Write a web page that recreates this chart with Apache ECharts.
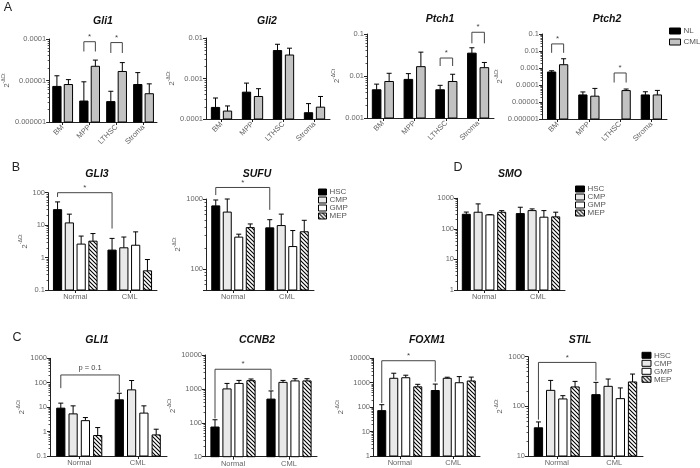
<!DOCTYPE html>
<html><head><meta charset="utf-8">
<script src="https://cdn.jsdelivr.net/npm/echarts@6/dist/echarts.min.js"></script>
<style>html,body{margin:0;padding:0;background:#fff}#c{width:700px;height:468px}</style>
</head><body><div id="c"></div>
<script>
// ---------- DATA ----------
// Panel A (mouse): categories and values (bar height, upper end of error bar)
const catsA = ['BM', 'MPP', 'LTHSC', 'Stroma'];
const aGli1NL = [7.2e-6, 3.2e-6, 3.1e-6, 8.0e-6];
const aGli1NLErr = [1.3e-5, 9.3e-6, 5.5e-6, 1.55e-5];
const aGli1CML = [8.0e-6, 2.2e-5, 1.65e-5, 4.8e-6];
const aGli1CMLErr = [1.05e-5, 3.1e-5, 2.7e-5, 8.3e-6];
const aGli2NL = [1.93e-4, 4.6e-4, 4.9e-3, 1.43e-4];
const aGli2NLErr = [3.3e-4, 7.7e-4, 7.0e-3, 2.4e-4];
const aGli2CML = [1.57e-4, 3.6e-4, 3.8e-3, 1.96e-4];
const aGli2CMLErr = [2.1e-4, 5.6e-4, 5.6e-3, 3.6e-4];
const aPtch1NL = [4.7e-3, 8.3e-3, 4.7e-3, 3.5e-2];
const aPtch1NLErr = [6.4e-3, 1.14e-2, 6.0e-3, 4.7e-2];
const aPtch1CML = [7.4e-3, 1.67e-2, 7.4e-3, 1.58e-2];
const aPtch1CMLErr = [1.16e-2, 3.7e-2, 1.1e-2, 2.1e-2];
const aPtch2NL = [5.8e-4, 2.6e-5, null, 2.6e-5];
const aPtch2NLErr = [6.9e-4, 3.9e-5, null, 4.0e-5];
const aPtch2CML = [1.56e-3, 2.2e-5, 4.7e-5, 2.6e-5];
const aPtch2CMLErr = [3.5e-3, 6.3e-5, 5.8e-5, 4.8e-5];
const legendA = ['NL', 'CML'];
const ticksGli1 = ['0.000001', '0.00001', '0.0001'];
const ticksGli2 = ['0.0001', '0.001', '0.01'];
const ticksPtch1 = ['0.001', '0.01', '0.1'];
const ticksPtch2 = ['0.000001', '0.00001', '0.0001', '0.001', '0.01', '0.1'];

// Panels B, C, D (human)
const catsBC = ['Normal', 'CML'];
const legendBC = ['HSC', 'CMP', 'GMP', 'MEP'];
const bGli3HSC = [30, 1.7],   bGli3HSCErr = [52, 3.9];
const bGli3CMP = [11.7, 2.0], bGli3CMPErr = [21.8, 4.3];
const bGli3GMP = [2.6, 2.4],  bGli3GMPErr = [4.6, 6.2];
const bGli3MEP = [3.2, 0.39], bGli3MEPErr = [5.5, 0.87];
const bSufuHSC = [797, 387], bSufuHSCErr = [968, 506];
const bSufuCMP = [650, 417], bSufuCMPErr = [1000, 608];
const bSufuGMP = [285, 209], bSufuGMPErr = [314, 354];
const bSufuMEP = [390, 340], bSufuMEPErr = [440, 496];
const dSmoHSC = [300, 316], dSmoHSCErr = [355, 510];
const dSmoCMP = [350, 396], dSmoCMPErr = [656, 450];
const dSmoGMP = [286, 241], dSmoGMPErr = [292, 396];
const dSmoMEP = [350, 247], dSmoMEPErr = [395, 351];
const cGli1HSC = [9.1, 20],   cGli1HSCErr = [14.6, 37];
const cGli1CMP = [5.3, 51],   cGli1CMPErr = [11.3, 123];
const cGli1GMP = [2.8, 5.7],  cGli1GMPErr = [3.75, 11.3];
const cGli1MEP = [0.69, 0.73], cGli1MEPErr = [1.46, 1.25];
const cCcnb2HSC = [75, 500],    cCcnb2HSCErr = [123, 870];
const cCcnb2CMP = [1000, 1560], cCcnb2CMPErr = [1450, 1780];
const cCcnb2GMP = [1450, 1720], cCcnb2GMPErr = [1780, 2000];
const cCcnb2MEP = [1750, 1720], cCcnb2MEPErr = [1960, 2000];
const cFoxm1HSC = [72, 480],    cFoxm1HSCErr = [126, 880];
const cFoxm1CMP = [1520, 1520], cFoxm1CMPErr = [2450, 1680];
const cFoxm1GMP = [1600, 1000], cFoxm1GMPErr = [2030, 1780];
const cFoxm1MEP = [680, 1180],  cFoxm1MEPErr = [860, 1700];
const cStilHSC = [37, 172],  cStilHSCErr = [48.5, 304];
const cStilCMP = [210, 253], cStilCMPErr = [333, 355];
const cStilGMP = [141, 143], cStilGMPErr = [164, 235];
const cStilMEP = [246, 310], cStilMEPErr = [318, 447];
const ticksGli3 = ['0.1', '1', '10', '100'];
const ticksSufu = ['100', '1000'];
const ticksSmo = ['1', '10', '100', '1000'];
const ticksCGli1 = ['0.1', '1', '10', '100', '1000'];
const ticksCcnb2 = ['10', '100', '1000', '10000'];
const ticksFoxm1 = ['1', '10', '100', '1000', '10000'];
const ticksStil = ['10', '100', '1000'];

// ---------- STYLE / LAYOUT ----------
const FONT = "'Liberation Sans', Arial, Helvetica, sans-serif";
function makeHatch() {
  const c = document.createElement('canvas'); c.width = 4; c.height = 4;
  const g = c.getContext('2d');
  g.fillStyle = '#fff'; g.fillRect(0, 0, 4, 4);
  g.strokeStyle = '#000'; g.lineWidth = 1.1; g.beginPath();
  g.moveTo(-1, -1); g.lineTo(5, 5);
  g.moveTo(-1, 3); g.lineTo(1, 5);
  g.moveTo(3, -1); g.lineTo(5, 1);
  g.stroke();
  return { image: c, repeat: 'repeat' };
}
const HATCH = makeHatch();
const FILL = { NL: '#000', CML: '#c2c2c2', HSC: '#000', CMP: '#e9e9e9', GMP: '#fff', MEP: HATCH };

function grp(names, arrs) { return names.map((n, i) => [n, arrs[i][0], arrs[i][1]]); }

const panels = [
  { title: 'Gli1', tx: 103, ty: 21, g: [43, 39, 114, 83], cats: catsA, min: 1e-6, max: 1e-4, ticks: ticksGli1, rotate: 45, barW: 8.3, step: 11.5, nameGap: 31,
    groups: grp(legendA, [[aGli1NL, aGli1NLErr], [aGli1CML, aGli1CMLErr]]),
    br: [{ c1: 1, g1: 0, c2: 1, g2: 1, y: 8.6e-5, yL: 5e-5, yR: 5e-5, t: '*' }, { c1: 2, g1: 0, c2: 2, g2: 1, y: 8.2e-5, yL: 4.6e-5, yR: 4.6e-5, t: '*' }] },
  { title: 'Gli2', tx: 267, ty: 21, g: [206, 38, 124, 81], cats: catsA, min: 1e-4, max: 1e-2, ticks: ticksGli2, rotate: 45, barW: 8.3, step: 12, nameGap: 22,
    groups: grp(legendA, [[aGli2NL, aGli2NLErr], [aGli2CML, aGli2CMLErr]]), br: [] },
  { title: 'Ptch1', tx: 440, ty: 19, g: [367, 34, 127, 84], cats: catsA, min: 1e-3, max: 1e-1, ticks: ticksPtch1, rotate: 45, barW: 8.6, step: 12.5, nameGap: 18,
    groups: grp(legendA, [[aPtch1NL, aPtch1NLErr], [aPtch1CML, aPtch1CMLErr]]),
    br: [{ c1: 2, g1: 0, c2: 2, g2: 1, y: 0.0268, yL: 0.0173, yR: 0.0173, t: '*' }, { c1: 3, g1: 0, c2: 3, g2: 1, y: 0.11, yL: 0.06, yR: 0.06, t: '*' }] },
  { title: 'Ptch2', tx: 607, ty: 19, g: [542, 34, 125, 85], cats: catsA, min: 1e-6, max: 1e-1, ticks: ticksPtch2, rotate: 45, barW: 8.3, step: 12, nameGap: 28,
    groups: grp(legendA, [[aPtch2NL, aPtch2NLErr], [aPtch2CML, aPtch2CMLErr]]),
    br: [{ c1: 0, g1: 0, c2: 0, g2: 1, y: 0.0261, yL: 0.0078, yR: 0.0078, t: '*' }, { c1: 2, g1: 0, c2: 2, g2: 1, y: 5.1e-4, yL: 1.4e-4, yR: 1.4e-4, t: '*' }] },
  { title: 'GLI3', tx: 97, ty: 174, g: [48, 192.7, 109, 97.3], cats: catsBC, min: 0.1, max: 100, ticks: ticksGli3, barW: 8.2, step: 11.8, nameGap: 14,
    groups: grp(legendBC, [[bGli3HSC, bGli3HSCErr], [bGli3CMP, bGli3CMPErr], [bGli3GMP, bGli3GMPErr], [bGli3MEP, bGli3MEPErr]]),
    br: [{ c1: 0, g1: 0, c2: 1, g2: 0, y: 100, yL: 74, yR: 7.85, t: '*' }] },
  { title: 'SUFU', tx: 257, ty: 174, g: [206, 199, 108, 91], cats: catsBC, min: 50, max: 1000, ticks: ticksSufu, barW: 8, step: 11.5, nameGap: 20,
    groups: grp(legendBC, [[bSufuHSC, bSufuHSCErr], [bSufuCMP, bSufuCMPErr], [bSufuGMP, bSufuGMPErr], [bSufuMEP, bSufuMEPErr]]),
    br: [{ c1: 0, g1: 0, c2: 1, g2: 0, y: 1461, yL: 1138, yR: 700, t: '*' }] },
  { title: 'SMO', tx: 510, ty: 174, g: [457, 198.3, 108, 91.7], cats: catsBC, min: 1, max: 1000, ticks: ticksSmo, barW: 8, step: 11.8, nameGap: null,
    groups: grp(legendBC, [[dSmoHSC, dSmoHSCErr], [dSmoCMP, dSmoCMPErr], [dSmoGMP, dSmoGMPErr], [dSmoMEP, dSmoMEPErr]]), br: [] },
  { title: 'GLI1', tx: 97, ty: 340, g: [50, 358.3, 117, 97.7], cats: catsBC, min: 0.1, max: 1000, ticks: ticksCGli1, barW: 8.2, step: 12.3, nameGap: 14,
    groups: grp(legendBC, [[cGli1HSC, cGli1HSCErr], [cGli1CMP, cGli1CMPErr], [cGli1GMP, cGli1GMPErr], [cGli1MEP, cGli1MEPErr]]),
    br: [{ c1: 0, g1: 0, c2: 1, g2: 0, y: 208, yL: 60, yR: 40, t: 'p = 0.1' }] },
  { title: 'CCNB2', tx: 257, ty: 340, g: [205, 355, 112, 101.7], cats: catsBC, min: 10, max: 10000, ticks: ticksCcnb2, barW: 8.2, step: 12, nameGap: 19,
    groups: grp(legendBC, [[cCcnb2HSC, cCcnb2HSCErr], [cCcnb2CMP, cCcnb2CMPErr], [cCcnb2GMP, cCcnb2GMPErr], [cCcnb2MEP, cCcnb2MEPErr]]),
    br: [{ c1: 0, g1: 0, c2: 1, g2: 0, y: 3800, yL: 135, yR: 935, t: '*' }] },
  { title: 'FOXM1', tx: 427, ty: 340, g: [373, 358.3, 107, 97.7], cats: catsBC, min: 1, max: 10000, ticks: ticksFoxm1, barW: 8, step: 12, nameGap: 22,
    groups: grp(legendBC, [[cFoxm1HSC, cFoxm1HSCErr], [cFoxm1CMP, cFoxm1CMPErr], [cFoxm1GMP, cFoxm1GMPErr], [cFoxm1MEP, cFoxm1MEPErr]]),
    br: [{ c1: 0, g1: 0, c2: 1, g2: 0, y: 7960, yL: 147, yR: 1100, t: '*' }] },
  { title: 'STIL', tx: 580, ty: 340, g: [528, 356.7, 115, 99.3], cats: catsBC, min: 10, max: 1000, ticks: ticksStil, barW: 8.3, step: 12.2, nameGap: 19,
    groups: grp(legendBC, [[cStilHSC, cStilHSCErr], [cStilCMP, cStilCMPErr], [cStilGMP, cStilGMPErr], [cStilMEP, cStilMEPErr]]),
    br: [{ c1: 0, g1: 0, c2: 1, g2: 0, y: 767, yL: 54, yR: 329, t: '*' }] }
];

// ---------- BUILD OPTION ----------
const grid = [], xAxis = [], yAxis = [], series = [], graphic = [];
const axisColor = '#222', labelColor = '#666';

function offsetOf(p, gi) { return (gi - (p.groups.length - 1) / 2) * p.step; }

panels.forEach((p, i) => {
  grid.push({ left: p.g[0], top: p.g[1], width: p.g[2], height: p.g[3] });
  xAxis.push({
    type: 'category', gridIndex: i, data: p.cats, boundaryGap: true,
    axisLine: { lineStyle: { color: axisColor, width: 1 } },
    axisTick: { show: true, alignWithLabel: true, length: 3, lineStyle: { color: axisColor } },
    axisLabel: { interval: 0, fontSize: 7.5, color: labelColor, fontFamily: FONT, rotate: p.rotate || 0, margin: p.rotate ? 4 : 3 }
  });
  const ya = {
    type: 'log', logBase: 10, gridIndex: i, min: p.min, max: p.max,
    axisLine: { show: true, lineStyle: { color: axisColor, width: 1 } },
    axisTick: { show: true, length: 3, lineStyle: { color: axisColor } },
    minorTick: { show: true, splitNumber: 9, length: 1.5, lineStyle: { color: '#555' } },
    splitLine: { show: false }, minorSplitLine: { show: false },
    axisLabel: {
      fontSize: 7.5, color: labelColor, fontFamily: FONT, margin: 3, showMinLabel: true, showMaxLabel: true,
      formatter: (v) => { for (const s of p.ticks) { if (Math.abs(Math.log10(+s) - Math.log10(v)) < 1e-4) return s; } return ''; }
    }
  };
  if (p.nameGap != null) {
    Object.assign(ya, {
      name: '{b|2}{s|-ΔCt}', nameLocation: 'middle', nameRotate: 90, nameGap: p.nameGap,
      nameTextStyle: { rich: { b: { fontSize: 7.5, color: '#555', fontFamily: FONT, lineHeight: 10, verticalAlign: 'bottom' },
                               s: { fontSize: 5, color: '#555', fontFamily: FONT, lineHeight: 10, verticalAlign: 'top' } } }
    });
  }
  yAxis.push(ya);

  p.groups.forEach(([name, vals, errs], gi) => {
    const fill = FILL[name];
    series.push({
      type: 'custom', name, coordinateSystem: 'cartesian2d', xAxisIndex: i, yAxisIndex: i,
      itemStyle: { color: fill, borderColor: '#000', borderWidth: 1 },
      encode: { x: 0, y: [1, 2] }, clip: false, z: 2, silent: true,
      data: vals.map((v, ci) => [ci, v == null ? '-' : v, errs[ci] == null ? '-' : errs[ci]]),
      renderItem: (params, api) => {
        const c = api.value(0), v = api.value(1), e = api.value(2);
        if (v == null || isNaN(v)) return null;
        const top = api.coord([c, v]);
        const base = api.coord([c, p.min]);
        const cx = top[0] + offsetOf(p, gi);
        const children = [];
        if (e != null && !isNaN(e) && e > v) {
          const ep = api.coord([c, e]);
          children.push({ type: 'line', shape: { x1: cx, y1: top[1], x2: cx, y2: ep[1] }, style: { stroke: '#000', lineWidth: 1 } });
          children.push({ type: 'line', shape: { x1: cx - 2.5, y1: ep[1], x2: cx + 2.5, y2: ep[1] }, style: { stroke: '#000', lineWidth: 1 } });
        }
        children.push({ type: 'rect', shape: { x: cx - p.barW / 2, y: top[1], width: p.barW, height: base[1] - top[1] },
                        style: { fill: fill, stroke: '#000', lineWidth: 1 } });
        return { type: 'group', children };
      }
    });
  });

  if (p.br.length) {
    series.push({
      type: 'custom', name: 'sig' + i, coordinateSystem: 'cartesian2d', xAxisIndex: i, yAxisIndex: i,
      encode: { x: [0, 2], y: [1, 3, 4] }, clip: false, z: 3, silent: true,
      data: p.br.map(b => [b.c1, b.y, b.c2, b.yL, b.yR]),
      renderItem: (params, api) => {
        const b = p.br[params.dataIndex];
        const y = api.coord([api.value(0), api.value(1)])[1];
        const x1 = api.coord([api.value(0), api.value(1)])[0] + offsetOf(p, b.g1);
        const x2 = api.coord([api.value(2), api.value(1)])[0] + offsetOf(p, b.g2);
        const yl = api.coord([api.value(0), api.value(3)])[1];
        const yr = api.coord([api.value(2), api.value(4)])[1];
        return { type: 'group', children: [
          { type: 'polyline', shape: { points: [[x1, yl], [x1, y], [x2, y], [x2, yr]] }, style: { stroke: '#444', lineWidth: 1, fill: null } },
          { type: 'text', x: (x1 + x2) / 2, y: y - (b.t === '*' ? 1 : 3),
            style: { text: b.t, align: 'center', verticalAlign: 'bottom', fontSize: b.t === '*' ? 8 : 7.5, fill: '#444', fontFamily: FONT } }
        ] };
      }
    });
  }

  graphic.push({ type: 'text', x: p.tx, y: p.ty, silent: true,
    style: { text: p.title, align: 'center', verticalAlign: 'middle', fontSize: 10.5, fontStyle: 'italic', fontWeight: 'bold', fill: '#111', fontFamily: FONT } });
});

[['A', 8, 8], ['B', 16, 168], ['C', 17, 338], ['D', 458, 168]].forEach(([t, x, y]) => {
  graphic.push({ type: 'text', x, y, silent: true, style: { text: t, align: 'center', verticalAlign: 'middle', fontSize: 12.5, fill: '#222', fontFamily: FONT } });
});

function legendAt(data, left, top, iw, ih, lh, gap) {
  return { data, left, top, orient: 'vertical', icon: 'rect', itemWidth: iw, itemHeight: ih, itemGap: gap, padding: 0,
    selectedMode: false, itemStyle: { borderColor: '#000', borderWidth: 1 },
    textStyle: { fontSize: 8, color: '#555', fontFamily: FONT, lineHeight: lh, padding: [0, 0, 0, -2] } };
}

const option = {
  animation: false,
  backgroundColor: '#fff',
  textStyle: { fontFamily: FONT },
  grid, xAxis, yAxis, series, graphic,
  legend: [
    legendAt(legendA, 669, 26.5, 11, 6, 9, 2),
    legendAt(legendBC, 318, 188, 8, 6, 7.2, 0),
    legendAt(legendBC, 575, 185, 9, 6, 7.8, 0),
    legendAt(legendBC, 641.5, 351.3, 9, 6, 7.6, 0)
  ]
};

const chart = echarts.init(document.getElementById('c'), null, { renderer: 'canvas' });
chart.setOption(option);
</script>
</body></html>
